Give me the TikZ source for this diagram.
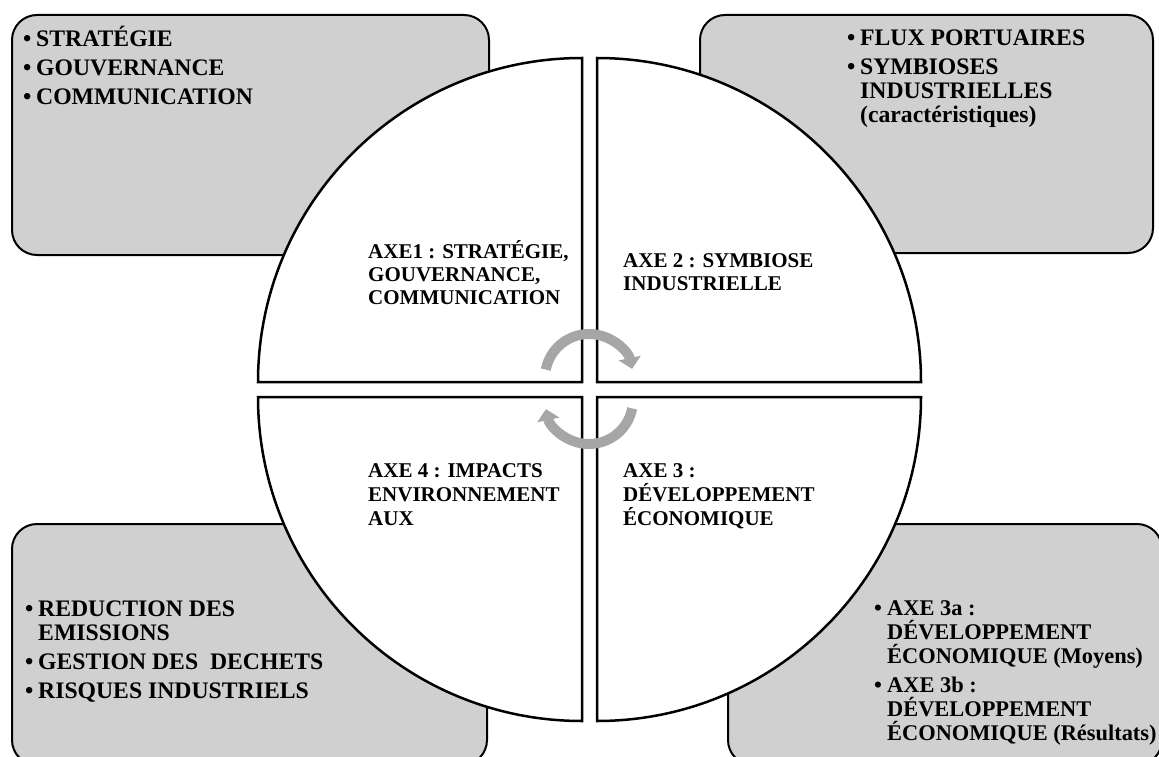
\documentclass[tikz,border=0pt]{standalone}
\usepackage{fontspec}
\setmainfont{Liberation Serif}
\usetikzlibrary{arrows.meta}
\definecolor{boxgray}{HTML}{D0D0D0}
\definecolor{arrowgray}{HTML}{A6A6A6}
\newcommand\bul{\makebox[13pt][l]{\textbullet}}
\newcommand\indt{\hspace*{13pt}}
\newcommand\blist[2]{\parbox[t]{#1}{\raggedright\lineskiplimit=-40pt #2}}
\begin{document}
\begin{tikzpicture}[x=1pt,y=-1pt,
  sidebox/.style={draw=black, line width=2pt, fill=boxgray, rounded corners=25pt},
  quad/.style={draw=black, line width=2.5pt, fill=white, line join=miter},
  cyc/.style={draw=arrowgray, line width=10pt, -{Triangle[width=22pt,length=11pt]}},
  btext/.style={anchor=base west, inner sep=0pt, font=\bfseries\fontsize{23.7}{24}\selectfont},
  brtext/.style={anchor=base west, inner sep=0pt, font=\bfseries\fontsize{22.4}{24}\selectfont},
  ctext/.style={anchor=base west, inner sep=0pt, font=\bfseries\fontsize{21}{23}\selectfont},
  dtext/.style={anchor=base west, inner sep=0pt, font=\bfseries\fontsize{21}{24}\selectfont}]
\useasboundingbox (0,0) rectangle (1159,757);
% side boxes
\draw[sidebox] (12,15) rectangle (489,255);
\draw[sidebox] (700,15) rectangle (1153,253);
\draw[sidebox] (12,524) rectangle (487,765);
\draw[sidebox] (728,524) rectangle (1162,765);
% quadrants
\draw[quad] (582,382) -- (258,382) arc[start angle=180,end angle=270,radius=324] -- cycle;
\draw[quad] (597,382) -- (597,58) arc[start angle=270,end angle=360,radius=324] -- cycle;
\draw[quad] (597,397) -- (921,397) arc[start angle=0,end angle=90,radius=324] -- cycle;
\draw[quad] (582,397) -- (582,721) arc[start angle=90,end angle=180,radius=324] -- cycle;
% cycle arrows
\coordinate (topc) at (589,378);
\coordinate (botc) at (589,400);
\draw[cyc] ([shift={(191:44)}]topc) arc[start angle=191,end angle=348,radius=44];
\draw[cyc] ([shift={(11:44)}]botc) arc[start angle=11,end angle=168,radius=44];
% side texts
\node[btext] (tl) at (23,47) {\blist{460pt}{\bul STRATÉGIE\\[5pt]\bul GOUVERNANCE\\[5pt]\bul COMMUNICATION}};
\node[btext] (tr) at (847,46) {\blist{300pt}{\bul FLUX PORTUAIRES\\[5pt]\bul SYMBIOSES\\\indt INDUSTRIELLES\\\indt (caractéristiques)}};
\node[btext] (bl) at (25,616) {\blist{460pt}{\bul REDUCTION DES\\\indt EMISSIONS\\[5pt]\bul GESTION DES\ \ DECHETS\\[5pt]\bul RISQUES INDUSTRIELS}};
\node[brtext] (br) at (874,615) {\blist{300pt}{\bul AXE 3a :\\\indt DÉVELOPPEMENT\\\indt ÉCONOMIQUE (Moyens)\\[5pt]\bul AXE 3b :\\\indt DÉVELOPPEMENT\\\indt ÉCONOMIQUE (Résultats)}};
% center texts
\node[ctext] (ax1) at (368,258) {\blist{220pt}{AXE1 : STRATÉGIE,\\GOUVERNANCE,\\COMMUNICATION}};
\node[ctext] (ax2) at (623,267) {\blist{220pt}{AXE 2 : SYMBIOSE\\INDUSTRIELLE}};
\node[dtext] (ax4) at (368,477) {\blist{220pt}{AXE 4 : IMPACTS\\ENVIRONNEMENT\\AUX}};
\node[dtext] (ax3) at (623,477) {\blist{220pt}{AXE 3 :\\DÉVELOPPEMENT\\ÉCONOMIQUE}};
\end{tikzpicture}
\end{document}
